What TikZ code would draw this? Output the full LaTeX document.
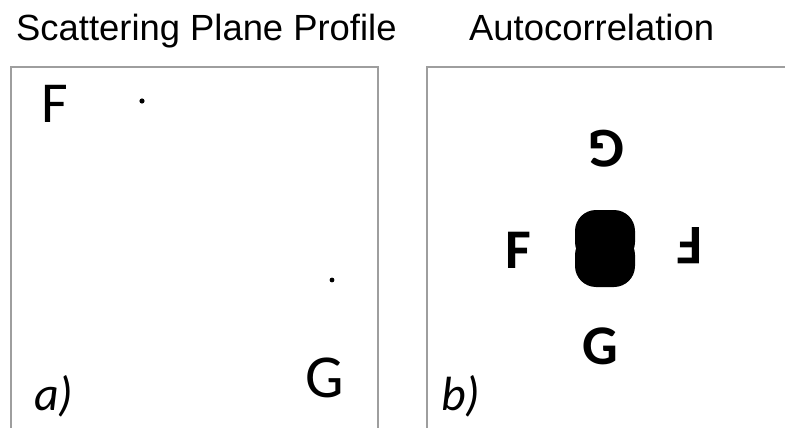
\documentclass[tikz,border=0pt]{standalone}
\usepackage{fontspec}
\newfontfamily\titlefont{Liberation Sans}
\newfontfamily\lblfont{Carlito}
\begin{document}
\begin{tikzpicture}[x=1pt,y=-1pt,
  title/.style={inner sep=0pt,anchor=base west,font=\titlefont\fontsize{36.4}{40}\selectfont},
  letter/.style={inner sep=0pt,font=\lblfont\fontsize{58}{60}\selectfont},
  bletter/.style={inner sep=0pt,font=\lblfont\bfseries\fontsize{56}{60}\selectfont},
  panel/.style={inner sep=0pt,anchor=base west,font=\lblfont\itshape\fontsize{48}{52}\selectfont},
  frame/.style={draw=black!38,line width=1.3pt},
  spot/.style={fill=black}]
\useasboundingbox (0,0) rectangle (785,428);
\clip (0,0) rectangle (785,428);

% headings
\node[title] (t1) at (16,41) {Scattering Plane Profile};
\node[title] (t2) at (469,41) {Autocorrelation};

% panel frames (open at the bottom and right page edges)
\draw[frame] (11,440) -- (11,67) -- (378,67) -- (378,440);
\draw[frame] (427,440) -- (427,67) -- (800,67);

% panel a: scattering plane profile
\node[letter] (fa) at (55,104) {F};
\node[letter,font=\lblfont\fontsize{61}{64}\selectfont] (ga) at (325,378) {G};
\fill[spot] (142,101) circle (2.6);
\fill[spot] (332,280) circle (2.4);
\node[panel] (la) at (34,410) {a)};

% panel b: autocorrelation
\node[bletter,rotate=180] (gtop) at (607,149) {G};
\node[bletter] (fl) at (518,250) {F};
\node[bletter,rotate=180] (fr) at (690,246) {F};
\node[bletter] (gbot) at (600,346) {G};
% central peak: two merged rounded lobes with a faint waist
\fill[rounded corners=21pt] (575,210) rectangle (635,263);
\fill[rounded corners=21pt] (575,234) rectangle (635,287);
\node[panel] (lb) at (441,410) {b)};
\end{tikzpicture}
\end{document}
